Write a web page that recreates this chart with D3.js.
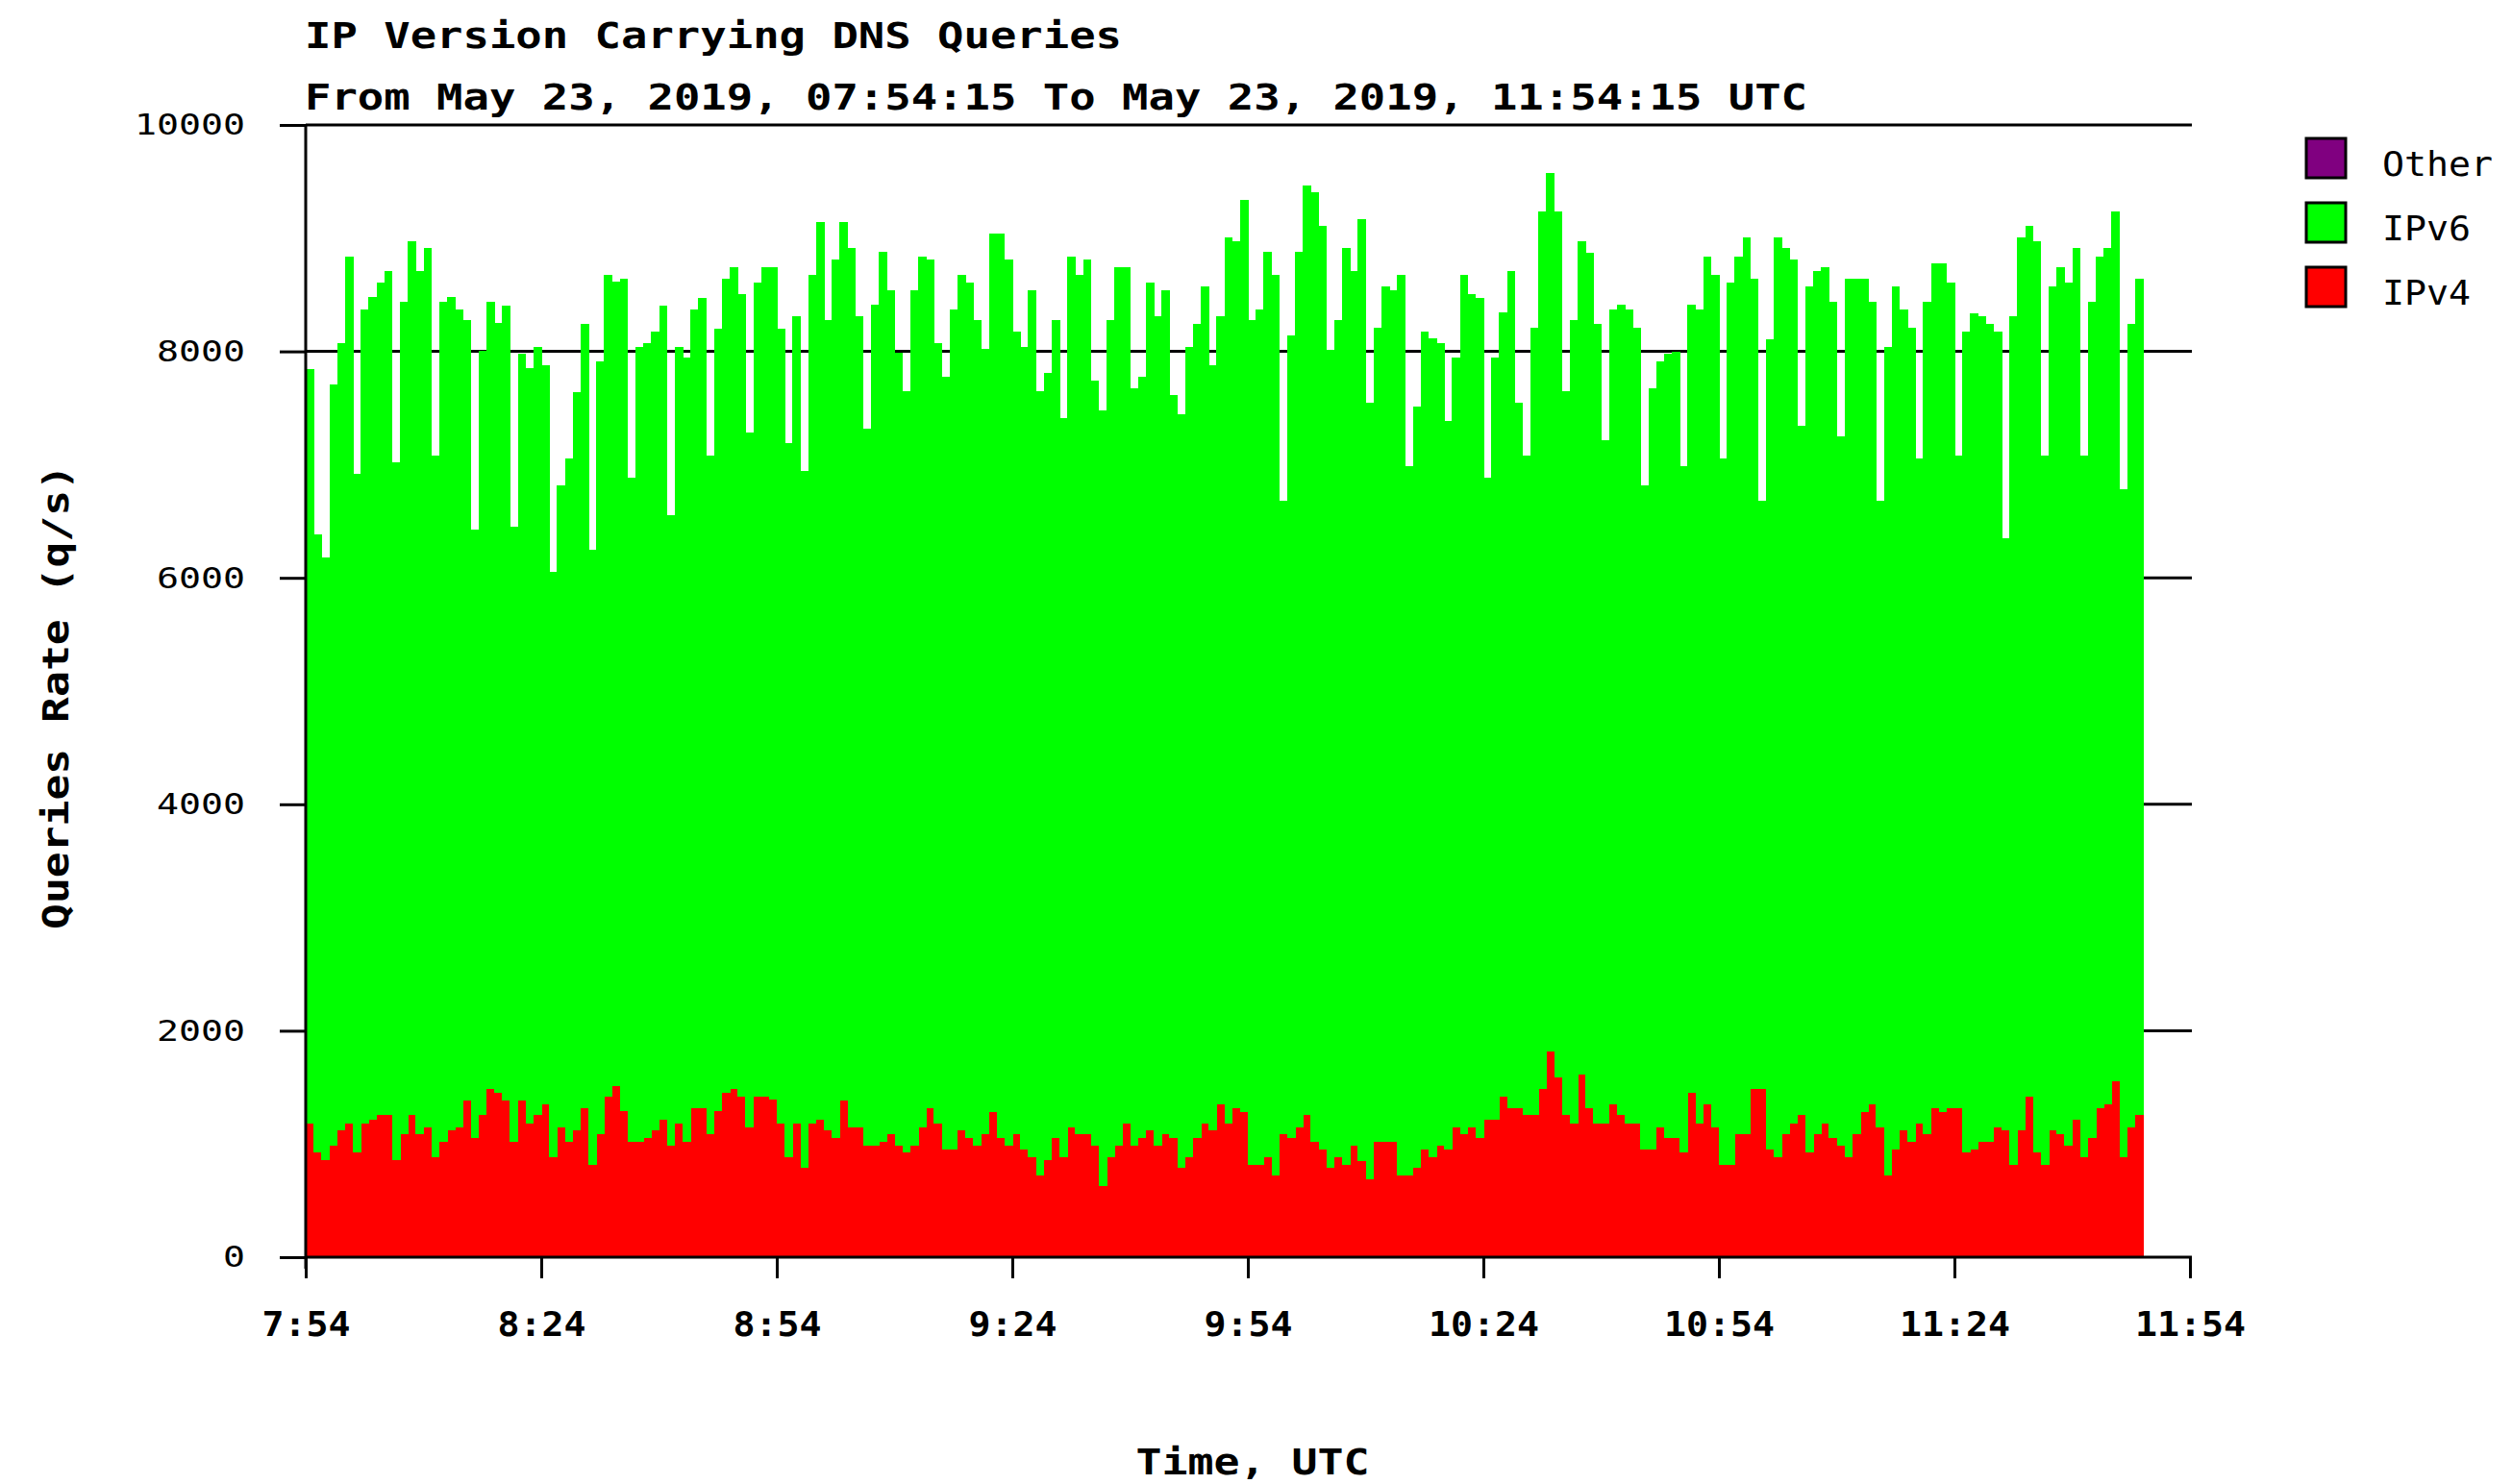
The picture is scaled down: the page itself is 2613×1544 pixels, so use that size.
<!DOCTYPE html>
<meta charset='utf-8'>
<head>
    <title>IP Version Carrying DNS Queries</title>
    <script src='https://d3js.org/d3.v7.min.js'></script>
</head>

<style>
    body { margin: 0; background: #fff; }
    svg { display: block; background: #fff; }
    .grid line { stroke: #000; stroke-width: 3px; }
    .axis path, .axis line { stroke: #000; stroke-width: 3px; }
    .bold { font-family: 'DejaVu Sans Mono', monospace; font-weight: bold; fill: #000; }
    .thin { font-family: 'DejaVu Sans Mono', monospace; font-weight: normal; fill: #000; }
</style>

<svg></svg>

<script>
    var vWidth = 2613;
    var vHeight = 1544;

    // one bar per minute, starting 07:54:15 UTC
    var vStart = Date.UTC(2019, 4, 23, 7, 54, 15);
    var vEnd = Date.UTC(2019, 4, 23, 11, 54, 15);

    var ipv4 = [
        1184, 924, 859, 986, 1119, 1184, 924, 1184, 1218, 1254,
        1254, 859, 1085, 1254, 1085, 1150, 887, 1020, 1119, 1150,
        1381, 1051, 1254, 1486, 1452, 1381, 1020, 1381, 1184, 1254,
        1347, 887, 1150, 1020, 1119, 1316, 816, 1085, 1418, 1514,
        1288, 1020, 1020, 1051, 1119, 1218, 986, 1184, 1020, 1316,
        1316, 1085, 1288, 1452, 1486, 1418, 1150, 1418, 1418, 1390,
        1184, 887, 1184, 788, 1184, 1218, 1119, 1051, 1381, 1150,
        1150, 986, 986, 1020, 1085, 986, 924, 986, 1150, 1316,
        1184, 952, 952, 1119, 1051, 986, 1085, 1282, 1051, 986,
        1085, 952, 887, 723, 859, 1051, 887, 1150, 1085, 1085,
        986, 624, 887, 986, 1184, 986, 1051, 1119, 986, 1085,
        1051, 788, 887, 1051, 1184, 1119, 1347, 1184, 1316, 1282,
        816, 816, 887, 723, 1085, 1051, 1150, 1254, 1020, 952,
        788, 887, 816, 986, 853, 689, 1020, 1020, 1020, 723,
        723, 788, 952, 887, 986, 952, 1150, 1085, 1150, 1051,
        1218, 1218, 1418, 1316, 1316, 1254, 1254, 1486, 1814, 1585,
        1254, 1184, 1616, 1316, 1184, 1184, 1347, 1254, 1184, 1184,
        952, 952, 1150, 1051, 1051, 924, 1452, 1184, 1347, 1150,
        816, 816, 1085, 1085, 1486, 1486, 952, 887, 1085, 1184,
        1254, 924, 1085, 1184, 1051, 986, 887, 1085, 1282, 1347,
        1150, 723, 952, 1119, 1020, 1184, 1085, 1316, 1282, 1316,
        1316, 924, 952, 1020, 1020, 1150, 1119, 816, 1119, 1418,
        924, 816, 1119, 1085, 986, 1218, 887, 1051, 1316, 1347,
        1551, 887, 1150, 1254
    ];

    var ipv6 = [
        6658, 5457, 5325, 6723, 6957, 7655, 5994, 7189, 7259, 7353,
        7452, 6158, 7356, 7718, 7627, 7760, 6195, 7421, 7358, 7220,
        6893, 5373, 6752, 6955, 6799, 7026, 5432, 6596, 6666, 6786,
        6532, 5169, 5663, 6031, 6525, 6927, 5433, 6825, 7257, 7105,
        7353, 5861, 7020, 7025, 7056, 7189, 5565, 6858, 6929, 7057,
        7156, 5997, 6915, 7189, 7254, 7091, 6135, 7187, 7322, 7350,
        7019, 6299, 7124, 6158, 7491, 7923, 7161, 7757, 7760, 7760,
        7158, 6328, 7424, 7856, 7457, 7006, 6723, 7556, 7689, 7492,
        6892, 6828, 7421, 7556, 7556, 7288, 6935, 7760, 7991, 7822,
        7090, 7090, 7650, 6924, 6949, 7223, 6525, 7689, 7590, 7723,
        6757, 6859, 7387, 7754, 7556, 6689, 6729, 7488, 7322, 7457,
        6565, 6658, 7155, 7192, 7392, 6760, 6961, 7819, 7659, 8057,
        7464, 7557, 7989, 7952, 5599, 7090, 7726, 8215, 8384, 8155,
        7226, 7387, 8094, 7726, 8317, 6859, 7189, 7556, 7522, 7952,
        6266, 6723, 7223, 7226, 7090, 6432, 6794, 7590, 7359, 7421,
        5663, 6726, 6927, 7390, 6232, 5828, 6955, 7754, 7760, 7655,
        6393, 7090, 7359, 7557, 7059, 6031, 7026, 7156, 7189, 7025,
        5867, 6723, 6760, 6926, 6949, 6065, 6958, 7189, 7492, 7525,
        6235, 7791, 7754, 7918, 7155, 5198, 7158, 8116, 7825, 7624,
        6093, 7652, 7621, 7556, 7390, 6263, 7754, 7556, 7359, 7094,
        5534, 7319, 7624, 7254, 7189, 5867, 7356, 7458, 7492, 7291,
        5766, 7251, 7387, 7288, 7223, 7025, 5234, 7492, 7884, 7689,
        8051, 6266, 7457, 7655, 7621, 7692, 6195, 7390, 7523, 7563,
        7689, 5896, 7093, 7387
    ];

    var vKeys = ['IPv4', 'IPv6'];
    var vLegend = ['Other', 'IPv6', 'IPv4'];
    var vColors = {'Other': '#800080', 'IPv6': '#00ff00', 'IPv4': '#ff0000'};
    var yTicks = [0, 2000, 4000, 6000, 8000, 10000];
    var xTickLabels = ['7:54', '8:24', '8:54', '9:24', '9:54', '10:24', '10:54', '11:24', '11:54'];

    var svg = d3.select('svg').attr('width', vWidth).attr('height', vHeight);

    var x = d3.scaleUtc().domain([new Date(vStart), new Date(vEnd)]).range([318, 2278]);
    var y = d3.scaleLinear().domain([0, 10000]).range([1308, 130]);

    // horizontal rules behind the bars
    svg.append('g').attr('class', 'grid')
        .selectAll('line').data(yTicks.slice(1)).enter().append('line')
        .attr('x1', x.range()[0]).attr('x2', x.range()[1] + 2)
        .attr('y1', function (d) { return y(d); })
        .attr('y2', function (d) { return y(d); });

    // stacked bars
    var vRows = ipv4.map(function (v, i) {
        return {t: new Date(vStart + i * 60000), IPv4: v, IPv6: ipv6[i]};
    });
    var vStack = d3.stack().keys(vKeys)(vRows);

    svg.append('g').selectAll('g').data(vStack).enter().append('g')
        .attr('fill', function (d) { return vColors[d.key]; })
        .attr('shape-rendering', 'crispEdges')
        .selectAll('rect').data(function (d) { return d; }).enter().append('rect')
        .attr('x', function (d) { return x(d.data.t); })
        .attr('width', function (d) { return x(new Date(+d.data.t + 60000)) - x(d.data.t) + 0.6; })
        .attr('y', function (d) { return y(d[1]); })
        .attr('height', function (d) { return y(d[0]) - y(d[1]); });

    // axes
    var yAxis = svg.append('g').attr('class', 'axis')
        .attr('transform', 'translate(318,0)')
        .call(d3.axisLeft(y).tickValues(yTicks).tickSizeInner(27).tickSizeOuter(0).tickPadding(36)
            .tickFormat(d3.format('d')));
    yAxis.select('.domain').attr('d', 'M0,' + y(10000) + 'V' + (y(0) + 12));
    yAxis.selectAll('text').attr('class', 'thin').style('font-size', '31px')
        .attr('textLength', function (d) { return String(d).length * 23; })
        .attr('lengthAdjust', 'spacingAndGlyphs');

    var xAxis = svg.append('g').attr('class', 'axis')
        .attr('transform', 'translate(0,' + y(0) + ')')
        .call(d3.axisBottom(x)
            .tickValues(xTickLabels.map(function (d, k) { return new Date(vStart + k * 1800000); }))
            .tickFormat(function (d, k) { return xTickLabels[k]; })
            .tickSizeInner(22).tickSizeOuter(0).tickPadding(34));
    xAxis.select('.domain').attr('d', 'M' + x.range()[0] + ',0H' + (x.range()[1] + 2));
    xAxis.selectAll('text').attr('class', 'bold').style('font-size', '36px')
        .attr('textLength', function (d, k) { return xTickLabels[k].length * 23; })
        .attr('lengthAdjust', 'spacingAndGlyphs');

    // titles
    svg.append('text').attr('class', 'bold').attr('x', 317).attr('y', 50)
        .style('font-size', '38px').attr('textLength', 850).attr('lengthAdjust', 'spacingAndGlyphs')
        .text('IP Version Carrying DNS Queries');
    svg.append('text').attr('class', 'bold').attr('x', 317).attr('y', 114)
        .style('font-size', '38px').attr('textLength', 1563).attr('lengthAdjust', 'spacingAndGlyphs')
        .text('From May 23, 2019, 07:54:15 To May 23, 2019, 11:54:15 UTC');

    svg.append('text').attr('class', 'bold').attr('x', 1303).attr('y', 1534)
        .attr('text-anchor', 'middle').style('font-size', '38px')
        .attr('textLength', 243).attr('lengthAdjust', 'spacingAndGlyphs')
        .text('Time, UTC');

    svg.append('text').attr('class', 'bold')
        .attr('transform', 'translate(71,725) rotate(-90)')
        .attr('text-anchor', 'middle').style('font-size', '38px')
        .attr('textLength', 484).attr('lengthAdjust', 'spacingAndGlyphs')
        .text('Queries Rate (q/s)');

    // legend
    var vLeg = svg.append('g').selectAll('g').data(vLegend).enter().append('g')
        .attr('transform', function (d, i) { return 'translate(2399,' + (144 + i * 67) + ')'; });
    vLeg.append('rect').attr('width', 41).attr('height', 41)
        .attr('fill', function (d) { return vColors[d]; })
        .attr('stroke', '#000').attr('stroke-width', 3);
    vLeg.append('text').attr('class', 'thin').attr('x', 79).attr('y', 26)
        .attr('dy', '0.35em').style('font-size', '36px')
        .attr('textLength', function (d) { return d.length * 23; })
        .attr('lengthAdjust', 'spacingAndGlyphs')
        .text(function (d) { return d; });
</script>
